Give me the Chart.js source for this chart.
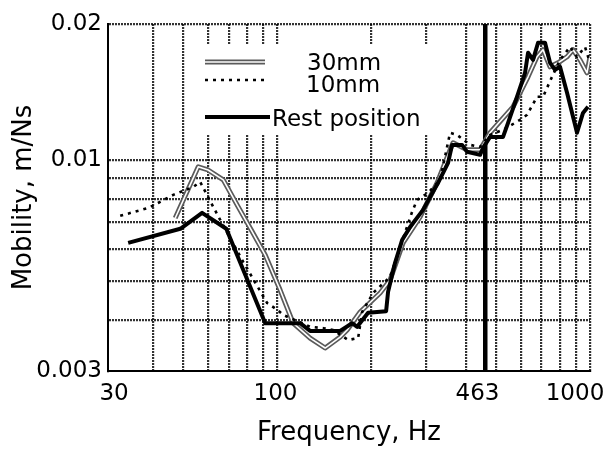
<!DOCTYPE html>
<html lang="en">
<head>
<meta charset="UTF-8">
<title>Mobility vs Frequency</title>
<style>
  html, body { margin: 0; padding: 0; background: #fff; }
  .chart-box { position: relative; width: 612px; height: 449px; }
</style>
</head>
<body>
<div class="chart-box"><canvas id="mobilityChart"></canvas></div>

<script src="https://cdn.jsdelivr.net/npm/chart.js"></script>
<script>
// values: frequency (Hz) and mobility (m/Ns)
const restHz = [33.3, 48.9, 57.4, 68.6, 91.4, 118.2, 127.2, 158.7, 173.4, 179.9, 195, 222.7, 225.9, 237.9,
  250.5, 265.7, 292.4, 319.4, 326.5, 351.5, 362, 389.7, 404.4, 444.9, 454.8, 478.9, 527, 546.8, 584.3,
  619.7, 633.6, 657.3, 682, 718, 745, 772.9, 801.9, 844.4, 908.8, 949.7, 985.4];
const restMobility = [0.00623, 0.00675, 0.00739, 0.00675, 0.00394, 0.00394, 0.00377, 0.00377, 0.00394,
  0.00386, 0.00418, 0.00422, 0.00471, 0.00556, 0.00633, 0.00682, 0.00752, 0.00852, 0.00877, 0.00983,
  0.01089, 0.01089, 0.01047, 0.01029, 0.01071, 0.0114, 0.0114, 0.01235, 0.01433, 0.01643, 0.01842,
  0.01769, 0.0195, 0.0195, 0.01739, 0.01671, 0.0170, 0.01466, 0.01167, 0.01307, 0.01353];

const tenHz = [31.4, 38.6, 41.5, 46.4, 53.8, 56.6, 62.3, 65.6, 77.7, 92.7, 100, 104.3, 127.2, 140, 150.7,
  168.4, 181.2, 186.6, 202.3, 229.3, 269.6, 279.7, 303.3, 331.4, 356.7, 375.6, 413.4, 444.9, 478.9, 527,
  597.3, 628.9, 677, 707.5, 756, 801.9, 863.2, 908.8, 963.8, 1000];
const tenMobility = [0.00727, 0.0076, 0.00782, 0.00819, 0.00857, 0.00882, 0.00765, 0.0071, 0.00559,
  0.00442, 0.00425, 0.00413, 0.00386, 0.00383, 0.00379, 0.00358, 0.00362, 0.0042, 0.00468, 0.00513,
  0.00743, 0.00796, 0.00828, 0.00892, 0.01167, 0.01153, 0.01089, 0.01077, 0.01153, 0.01187, 0.01256,
  0.01293, 0.01433, 0.01433, 0.01606, 0.01769, 0.01905, 0.018, 0.01905, 0.01739];

const thirtyHz = [47.1, 55.8, 60.0, 67.1, 74.9, 82.4, 91.4, 102, 112.3, 127.2, 142.1, 158.7, 167.1, 183.9,
  213, 229.3, 252.3, 286, 324.2, 356.7, 364.7, 404.4, 444.9, 478.9, 567.3, 633.6, 677, 707.5, 745, 790.2,
  844.4, 882.5, 929, 978.1, 1000];
const thirtyMobility = [0.00718, 0.00961, 0.00944, 0.00892, 0.00765, 0.00671, 0.00581, 0.00476, 0.00394,
  0.00362, 0.00342, 0.00364, 0.00379, 0.0042, 0.00468, 0.00504, 0.00623, 0.00722, 0.00877, 0.01059,
  0.01102, 0.01059, 0.01059, 0.01167, 0.01353, 0.01606, 0.018, 0.01874, 0.017, 0.01739, 0.018, 0.01874,
  0.01769, 0.01643, 0.018];

const seriesNames = ['30mm', '10mm', 'Rest position'];
const markerHz = 463;

// axis ticks / labels
const xTickValues = [30, 40, 50, 60, 70, 80, 90, 100, 200, 300, 400, 463, 500, 600, 700, 800, 900, 1000];
const xLabelValues = [30, 100, 463, 1000];
const xLabelTexts = ['30', '100', '463', '1000'];
const yTickValues = [0.003, 0.004, 0.005, 0.006, 0.007, 0.008, 0.009, 0.01, 0.0217];
const yTickLabels = ['0.003', '', '', '', '', '', '', '0.01', '0.02'];

const FONT = 'DejaVu Sans';
const GRID = 'rgba(0,0,0,0.8)';
const HOLLOW = '#5a5a5a';

const toPoints = (xs, ys) => xs.map((x, i) => ({ x: x, y: ys[i] }));

// legend sits in a white box inside the plot, like the original figure
const boxLegend = {
  id: 'boxLegend',
  afterDraw(chart) {
    const { ctx, chartArea: a } = chart;
    const left = a.left + 82, top = a.top + 21;
    ctx.save();
    ctx.fillStyle = '#fff';
    ctx.fillRect(left, top, 255, 90);

    const x0 = left + 15, x1 = left + 75;
    // 30mm - hollow grey
    ctx.lineCap = 'butt';
    ctx.strokeStyle = HOLLOW; ctx.lineWidth = 5;
    ctx.beginPath(); ctx.moveTo(x0, a.top + 38); ctx.lineTo(x1, a.top + 38); ctx.stroke();
    ctx.strokeStyle = '#fff'; ctx.lineWidth = 1.6;
    ctx.beginPath(); ctx.moveTo(x0, a.top + 38); ctx.lineTo(x1, a.top + 38); ctx.stroke();
    // 10mm - dotted
    ctx.strokeStyle = '#000'; ctx.lineWidth = 2.6; ctx.setLineDash([3, 5]);
    ctx.beginPath(); ctx.moveTo(x0, a.top + 56); ctx.lineTo(x1, a.top + 56); ctx.stroke();
    ctx.setLineDash([]);
    // rest - solid
    ctx.lineWidth = 4;
    ctx.beginPath(); ctx.moveTo(x0, a.top + 93); ctx.lineTo(x1 + 5, a.top + 93); ctx.stroke();

    ctx.fillStyle = '#000';
    ctx.font = '23px "' + FONT + '"';
    ctx.textBaseline = 'alphabetic';
    ctx.textAlign = 'left';
    ctx.fillText(seriesNames[0], left + 117, a.top + 46);
    ctx.fillText(seriesNames[1], left + 116, a.top + 68);
    ctx.fillText(seriesNames[2], left + 82, a.top + 102);
    ctx.restore();
  }
};

// x tick labels; the last ones are pulled left as in the figure
const xNudge = [0, -2, -8, -15];
const xLabels = {
  id: 'xLabels',
  afterDraw(chart) {
    const { ctx, chartArea: a, scales } = chart;
    ctx.save();
    ctx.fillStyle = '#000';
    ctx.font = '23px "' + FONT + '"';
    ctx.textAlign = 'center';
    ctx.textBaseline = 'alphabetic';
    xLabelValues.forEach((v, i) => {
      ctx.fillText(xLabelTexts[i], scales.x.getPixelForValue(v) + xNudge[i], a.bottom + 29);
    });
    ctx.restore();
  }
};

const config = {
  type: 'line',
  data: {
    datasets: [
      { label: seriesNames[2], data: toPoints(restHz, restMobility), borderColor: '#000', borderWidth: 4 },
      { label: seriesNames[1], data: toPoints(tenHz, tenMobility), borderColor: '#000', borderWidth: 2.6,
        borderDash: [3, 5], borderCapStyle: 'butt' },
      { label: seriesNames[0], data: toPoints(thirtyHz, thirtyMobility), borderColor: '#fff', borderWidth: 1.6 },
      { label: seriesNames[0], data: toPoints(thirtyHz, thirtyMobility), borderColor: HOLLOW, borderWidth: 5 }
    ]
  },
  options: {
    responsive: true,
    maintainAspectRatio: false,
    animation: false,
    events: [],
    elements: {
      point: { radius: 0 },
      line: { tension: 0, fill: false, borderJoinStyle: 'round' }
    },
    layout: { padding: { top: 24, right: 22, left: 0, bottom: 0 } },
    plugins: { legend: { display: false }, tooltip: { enabled: false } },
    scales: {
      x: {
        type: 'logarithmic',
        min: 28.7,
        max: 1000,
        afterBuildTicks: s => { s.ticks = xTickValues.map(v => ({ value: v })); },
        afterFit: s => { s.height = 78; },
        ticks: { display: false },
        grid: {
          drawTicks: false,
          color: c => (c.tick && c.tick.value === 30) ? 'rgba(0,0,0,0)' : (c.tick && c.tick.value === markerHz ? '#000' : GRID),
          lineWidth: c => (c.tick && c.tick.value === markerHz) ? 4.5 : 2.2
        },
        border: { color: '#000', width: 2, dash: c => (c.tick && c.tick.value !== markerHz) ? [2, 1] : [] },
        title: { display: true, text: 'Frequency, Hz', color: '#000', font: { family: FONT, size: 26 },
          padding: { top: 0, bottom: 0 } }
      },
      y: {
        type: 'logarithmic',
        min: 0.003,
        max: 0.0217,
        afterBuildTicks: s => { s.ticks = yTickValues.map(v => ({ value: v })); },
        afterFit: s => { s.width = 108; },
        ticks: {
          color: '#000',
          padding: 6,
          font: { family: FONT, size: 23 },
          callback: (v, i) => yTickLabels[i]
        },
        grid: {
          drawTicks: false,
          color: c => (c.tick && c.tick.value === 0.003) ? 'rgba(0,0,0,0)' : GRID,
          lineWidth: 2.2
        },
        border: { color: '#000', width: 2, dash: c => c.tick ? [2, 1] : [] },
        title: { display: true, text: 'Mobility, m/Ns', color: '#000', font: { family: FONT, size: 26 },
          padding: { top: 9, bottom: 0 } }
      }
    }
  },
  plugins: [boxLegend, xLabels]
};

window.addEventListener('load', () => {
  new Chart(document.getElementById('mobilityChart').getContext('2d'), config);
});
</script>
</body>
</html>
